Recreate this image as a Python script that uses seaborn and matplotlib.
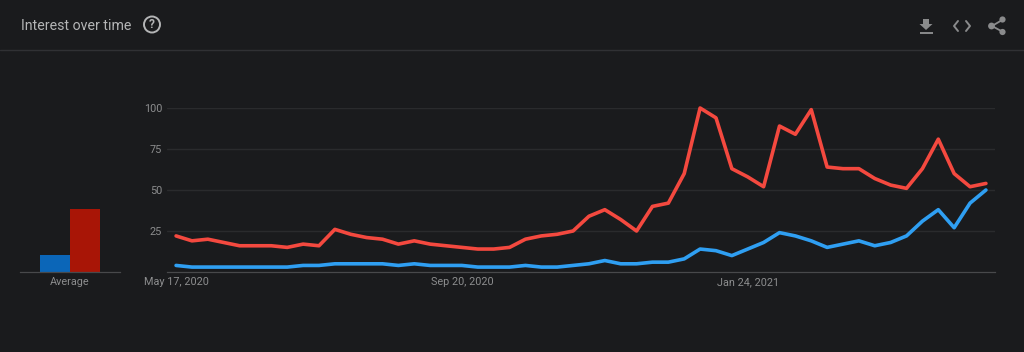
# Google Trends style "Interest over time" panel, dark theme

import pandas as pd
import matplotlib.pyplot as plt
from matplotlib.patches import Circle, Polygon
import seaborn as sns

BG = "#1a1b1d"
TEXT = "#b4b5b6"
TICK = "#8c8d8e"
GRID = "#2a2b2d"
AXIS = "#48494b"
ICON = "#8a8b8c"

red_values = [22, 19, 20, 18, 16, 16, 16, 15, 17, 16, 26, 23, 21, 20, 17, 19, 17, 16,
              15, 14, 14, 15, 20, 22, 23, 25, 34, 38, 32, 25, 40, 42, 60, 100, 94, 63,
              58, 52, 89, 84, 99, 64, 63, 63, 57, 53, 51, 63, 81, 60, 52, 54]
blue_values = [4, 3, 3, 3, 3, 3, 3, 3, 4, 4, 5, 5, 5, 5, 4, 5, 4, 4,
               4, 3, 3, 3, 4, 3, 3, 4, 5, 7, 5, 5, 6, 6, 8, 14, 13, 10,
               14, 18, 24, 22, 19, 15, 17, 19, 16, 18, 22, 31, 38, 27, 42, 50]
average_values = [10.4, 38.4]
terms = ["blue term", "red term"]
date_ticks = ["2020-05-17", "2020-09-20", "2021-01-24"]
date_labels = ["May 17, 2020", "Sep 20, 2020", "Jan 24, 2021"]
y_ticks = [25, 50, 75, 100]

line_colors = {"blue term": "#2f9ff2", "red term": "#f4493f"}
bar_colors = {"blue term": "#0b66b8", "red term": "#a81506"}

W, H = 1024, 352


def px_axes(fig, left, top, right, bottom):
    return fig.add_axes([left / W, 1 - bottom / H, (right - left) / W, (bottom - top) / H])


sns.set_theme(style="dark", rc={"figure.facecolor": BG, "axes.facecolor": BG, "savefig.facecolor": BG})
plt.rcParams["font.family"] = ["Roboto", "DejaVu Sans"]

fig = plt.figure(figsize=(W / 100, H / 100), dpi=100)

# --- main trend lines ---------------------------------------------------------

weeks = pd.date_range("2020-05-17", periods=len(red_values), freq="7D")
trend_df = pd.DataFrame({"week": weeks, "blue term": blue_values, "red term": red_values})
trend_df = trend_df.melt(id_vars="week", var_name="term", value_name="interest")

ax = px_axes(fig, 167, 108, 995, 272)
sns.lineplot(data=trend_df, x="week", y="interest", hue="term", palette=line_colors,
             linewidth=2.6, legend=False, ax=ax, clip_on=False, zorder=3)
ax.set_xlim(weeks[0] - pd.Timedelta(days=4), weeks[-1] + pd.Timedelta(days=4))
ax.set_ylim(0, 100)
ax.set_xticks(pd.to_datetime(date_ticks))
ax.set_xticklabels(date_labels)
ax.set_yticks(y_ticks)
ax.set_xlabel("")
ax.set_ylabel("")
ax.grid(axis="y", color=GRID, linewidth=1)
ax.grid(axis="x", visible=False)
ax.tick_params(axis="x", length=0, pad=3.5, labelsize=7.8, labelcolor=TICK)
ax.tick_params(axis="y", length=0, pad=3.5, labelsize=7.8, labelcolor=TICK)
for side in ["top", "left", "right"]:
    ax.spines[side].set_visible(False)
ax.spines["bottom"].set_color(AXIS)
ax.spines["bottom"].set_linewidth(0.9)

# --- average bars -------------------------------------------------------------

average_df = pd.DataFrame({"group": ["Average", "Average"], "term": terms, "interest": average_values})

bar_ax = px_axes(fig, 20, 108, 120, 272)
sns.barplot(data=average_df, x="group", y="interest", hue="term", palette=bar_colors,
            width=0.6, saturation=1, linewidth=0, legend=False, ax=bar_ax)
bar_ax.set_xlim(-0.5, 0.5)
bar_ax.set_ylim(0, 100)
bar_ax.set_yticks([])
bar_ax.set_xlabel("")
bar_ax.set_ylabel("")
bar_ax.tick_params(axis="x", length=0, pad=3.5, labelsize=7.8, labelcolor=TICK)
for side in ["top", "left", "right"]:
    bar_ax.spines[side].set_visible(False)
bar_ax.spines["bottom"].set_color(AXIS)
bar_ax.spines["bottom"].set_linewidth(0.9)

# --- header: title, help and action icons (pixel coordinates) ------------------

top = fig.add_axes([0, 0, 1, 1], facecolor="none")
top.set_xlim(0, W)
top.set_ylim(H, 0)
top.axis("off")

top.text(21, 25.5, "Interest over time", color=TEXT, fontsize=10.2, va="center", ha="left")
top.plot([0, W], [50, 50], color="#303134", linewidth=1)

top.add_patch(Circle((152, 24.5), 8, fill=False, edgecolor=TEXT, linewidth=1.4))
top.text(152, 25, "?", color=TEXT, fontsize=8.5, fontweight="bold", ha="center", va="center")

# download
top.add_patch(Polygon([(923, 19), (929, 19), (929, 24), (932.5, 24), (926, 30), (919.5, 24), (923, 24)],
                      facecolor=ICON, edgecolor="none"))
top.plot([920, 932.5], [33, 33], color=ICON, linewidth=1.4, solid_capstyle="butt")

# embed
top.plot([958, 954, 958], [21, 26, 31], color=ICON, linewidth=1.4)
top.plot([966, 970, 966], [21, 26, 31], color=ICON, linewidth=1.4)

# share
top.plot([1003, 992, 1003], [19.5, 26, 32], color=ICON, linewidth=1.3)
for cx, cy, r in [(1002.5, 19.5, 3.1), (991.5, 26, 3.4), (1002.5, 32, 3.1)]:
    top.add_patch(Circle((cx, cy), r, facecolor=ICON, edgecolor="none"))

fig.savefig("out.png", dpi=100)
